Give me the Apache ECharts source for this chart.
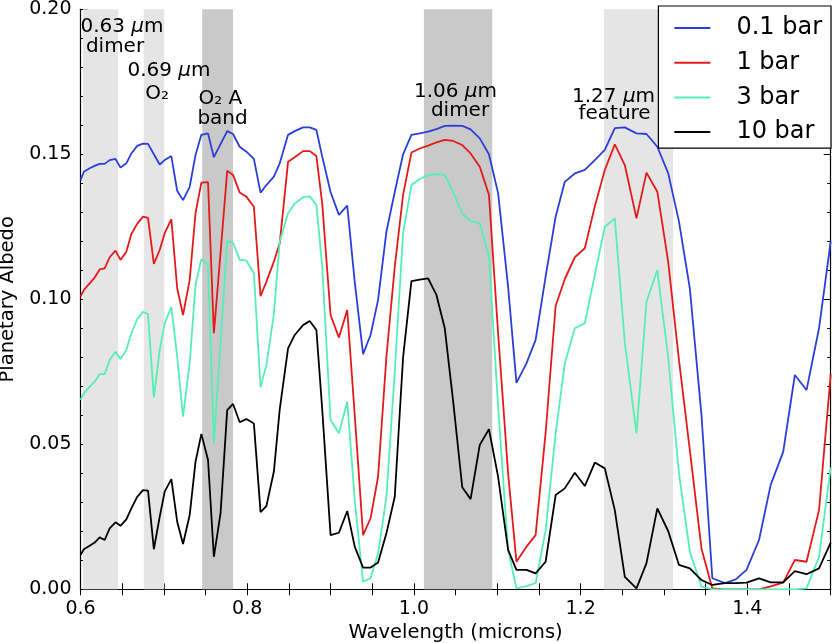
<!DOCTYPE html>
<html><head><meta charset="utf-8">
<script src="https://cdn.jsdelivr.net/npm/echarts@6/dist/echarts.min.js"></script>
<style>html,body{margin:0;padding:0;background:#fff}#c{width:833px;height:643px}</style>
</head><body><div id="c"></div>
<script>
const wavelength = [0.600,0.604,0.611,0.617,0.623,0.629,0.635,0.642,0.648,0.655,
0.661,0.668,0.675,0.681,0.688,0.695,0.701,0.709,0.716,0.723,
0.731,0.738,0.745,0.753,0.760,0.768,0.776,0.783,0.791,0.799,
0.808,0.816,0.823,0.832,0.839,0.849,0.857,0.867,0.875,0.883,
0.890,0.900,0.910,0.920,0.929,0.939,0.948,0.957,0.967,0.977,
0.987,0.997,1.007,1.017,1.027,1.037,1.047,1.058,1.068,1.079,
1.090,1.101,1.113,1.123,1.135,1.146,1.158,1.170,1.181,1.193,
1.205,1.217,1.229,1.241,1.253,1.267,1.279,1.292,1.305,1.318,
1.331,1.345,1.358,1.373,1.386,1.399,1.414,1.428,1.443,1.457,
1.471,1.486,1.500];

const albedo01 = [0.141,0.144,0.1452,0.146,0.1467,0.1467,0.148,0.1484,0.1454,0.1469,
0.1503,0.1529,0.1537,0.1536,0.150,0.1465,0.148,0.1494,0.1374,0.1342,
0.1388,0.1498,0.1567,0.1572,0.149,0.1535,0.158,0.157,0.1526,0.1509,
0.1484,0.1368,0.1394,0.1423,0.1469,0.1567,0.158,0.1593,0.1593,0.1584,
0.1492,0.137,0.1291,0.1323,0.106,0.0811,0.0877,0.0998,0.1233,0.137,
0.150,0.1567,0.1572,0.1578,0.1587,0.1598,0.1599,0.1598,0.1586,0.1555,
0.150,0.1366,0.1043,0.0712,0.0779,0.086,0.1078,0.1285,0.1405,0.1434,
0.1446,0.148,0.1515,0.159,0.1593,0.1572,0.157,0.1526,0.1435,0.1268,
0.1038,0.060,0.0038,0.0021,0.0034,0.0067,0.017,0.036,0.0474,0.0739,
0.0687,0.09,0.12];

const albedo1 = [0.1009,0.1032,0.1055,0.1075,0.1103,0.1107,0.1145,0.1168,0.1136,0.1164,
0.1225,0.126,0.1285,0.1281,0.1122,0.117,0.1228,0.1276,0.1038,0.0946,
0.1067,0.1297,0.1402,0.1404,0.0883,0.116,0.1443,0.1429,0.1368,0.1354,
0.1319,0.1011,0.1061,0.113,0.1193,0.1474,0.149,0.1511,0.1511,0.1494,
0.133,0.0946,0.0868,0.0963,0.060,0.0187,0.0245,0.0388,0.0802,0.1112,
0.136,0.1506,0.152,0.153,0.1541,0.155,0.1546,0.1532,0.1503,0.1457,
0.136,0.0883,0.040,0.0095,0.0147,0.0187,0.054,0.0977,0.107,0.1145,
0.1176,0.132,0.1446,0.1534,0.1463,0.1279,0.1437,0.1371,0.113,0.079,
0.048,0.014,0.0003,0,0,0,0,0.001,0.0023,0.0101,
0.0095,0.0273,0.074];

const albedo3 = [0.0653,0.0676,0.0699,0.0716,0.0742,0.0742,0.0791,0.0819,0.0794,0.0825,
0.0883,0.0931,0.0957,0.0949,0.0662,0.0825,0.0917,0.0974,0.0802,0.0595,
0.078,0.105,0.1138,0.1121,0.0503,0.085,0.1202,0.1195,0.1136,0.1133,
0.109,0.0697,0.0773,0.095,0.1199,0.1297,0.133,0.1352,0.1355,0.1325,
0.1112,0.0584,0.0538,0.0647,0.0308,0.0026,0.0038,0.0124,0.0319,0.075,
0.1228,0.1394,0.1415,0.1428,0.1432,0.1429,0.137,0.1295,0.127,0.1262,
0.1147,0.063,0.0136,0.0003,0.0011,0.0021,0.0204,0.0538,0.0779,0.09,
0.0917,0.1084,0.125,0.1279,0.085,0.0538,0.0992,0.1101,0.080,0.040,
0.013,0.0009,0,0,0,0,0,0,0,0,
0.0003,0.0112,0.042];

const albedo10 = [0.0118,0.0138,0.015,0.0161,0.0179,0.017,0.021,0.0231,0.0219,0.0241,
0.0279,0.0319,0.0342,0.034,0.0138,0.025,0.0337,0.038,0.0233,0.0156,
0.0256,0.044,0.0536,0.0446,0.0112,0.0262,0.0618,0.0639,0.0576,0.0587,
0.0572,0.0266,0.0287,0.0406,0.062,0.0831,0.0877,0.0911,0.0925,0.0894,
0.062,0.0187,0.0195,0.027,0.0147,0.0075,0.0075,0.0092,0.0193,0.0319,
0.08,0.1063,0.1068,0.1072,0.1015,0.09,0.065,0.0352,0.0311,0.0498,
0.0552,0.0388,0.0136,0.0067,0.0067,0.0055,0.0095,0.0325,0.0348,0.0402,
0.0356,0.0437,0.0417,0.0273,0.0043,0.0003,0.009,0.0279,0.0201,0.0084,
0.0072,0.0032,0.0015,0.0021,0.0021,0.0023,0.0038,0.0024,0.0024,0.0063,
0.0052,0.0072,0.0161];

const seriesNames = ['0.1 bar', '1 bar', '3 bar', '10 bar'];
const seriesValues = [albedo01, albedo1, albedo3, albedo10];
const seriesColors = ['#2b3fd8', '#e31a1a', '#55efb5', '#000000'];

const lightBands = [[0.603, 0.645], [0.676, 0.7005], [1.228, 1.311]];
const darkBands = [[0.746, 0.783], [1.012, 1.094]];

const annotations = [
  {text: '0.63 {i|μ}m', x: 0.6498, y: 0.1938},
  {text: 'dimer', x: 0.6414, y: 0.1869},
  {text: '0.69 {i|μ}m', x: 0.7062, y: 0.1787},
  {text: 'O₂', x: 0.6918, y: 0.1710},
  {text: 'O₂ A', x: 0.7677, y: 0.1690},
  {text: 'band', x: 0.7704, y: 0.1621},
  {text: '1.06 {i|μ}m', x: 1.0499, y: 0.1714},
  {text: 'dimer', x: 1.0553, y: 0.1649},
  {text: '1.27 {i|μ}m', x: 1.2395, y: 0.1700},
  {text: 'feature', x: 1.2407, y: 0.1638}
];

const FONT = 'DejaVu Sans';
const chart = echarts.init(document.getElementById('c'));

const xLabelFmt = v => {
  const k = v / 0.2;
  return Math.abs(k - Math.round(k)) < 1e-6 ? v.toFixed(1) : '';
};

const axisLineStyle = {color: '#000', width: 1.2};

const series = [
  {
    type: 'line', name: 'bands', data: [], z: 1, silent: true,
    markArea: {
      silent: true,
      data: lightBands.map(b => [{xAxis: b[0], itemStyle: {color: '#e5e5e5'}}, {xAxis: b[1]}])
        .concat(darkBands.map(b => [{xAxis: b[0], itemStyle: {color: '#c9c9c9'}}, {xAxis: b[1]}]))
    }
  }
];
seriesNames.forEach((n, k) => {
  series.push({
    type: 'line', name: n, z: 3,
    data: wavelength.map((w, i) => [w, seriesValues[k][i]]),
    symbol: 'none', showSymbol: false,
    lineStyle: {color: seriesColors[k], width: 1.8},
    itemStyle: {color: seriesColors[k]}
  });
});
series.push({
  type: 'line', name: 'labels', data: [], z: 5, silent: true,
  markPoint: {
    silent: true, symbol: 'circle', symbolSize: 1,
    itemStyle: {color: 'rgba(0,0,0,0)'},
    label: {
      show: true, position: 'inside', color: '#000', fontSize: 20, fontFamily: FONT,
      rich: {i: {fontStyle: 'italic', fontSize: 20, fontFamily: FONT, color: '#000'}}
    },
    data: annotations.map(a => ({coord: [a.x, a.y], label: {formatter: a.text}}))
  }
});

chart.setOption({
  animation: false,
  backgroundColor: '#fff',
  textStyle: {fontFamily: FONT},
  grid: {left: 80.5, right: 2.3, top: 9.3, bottom: 53.7, containLabel: false, outerBoundsMode: 'none'},
  legend: {
    data: seriesNames, orient: 'vertical', right: 2, top: 6,
    icon: 'rect', itemWidth: 36, itemHeight: 2, itemGap: 6.7,
    padding: [8, 9, 2, 16], borderColor: '#000', borderWidth: 1.2, backgroundColor: '#fff',
    textStyle: {fontSize: 24, color: '#000', fontFamily: FONT, lineHeight: 28, padding: [0, 0, 0, 21]}
  },
  xAxis: [
    {
      type: 'value', min: 0.6, max: 1.5, interval: 0.05, position: 'bottom',
      axisLine: {show: true, lineStyle: axisLineStyle},
      axisTick: {show: true, inside: true, length: 6, lineStyle: {color: '#000'}},
      axisLabel: {formatter: xLabelFmt, margin: 10, fontSize: 19, color: '#000', fontFamily: FONT},
      splitLine: {show: false},
      name: 'Wavelength (microns)', nameLocation: 'middle', nameGap: 31,
      nameTextStyle: {fontSize: 19.5, color: '#000', fontFamily: FONT}
    },
    {
      type: 'value', min: 0.6, max: 1.5, interval: 0.05, position: 'top',
      axisLine: {show: true, lineStyle: axisLineStyle},
      axisTick: {show: true, inside: true, length: 6, lineStyle: {color: '#000'}},
      axisLabel: {show: false}, splitLine: {show: false}
    }
  ],
  yAxis: [
    {
      type: 'value', min: 0, max: 0.2, interval: 0.05, position: 'left',
      axisLine: {show: true, lineStyle: axisLineStyle},
      axisTick: {show: true, inside: true, length: 7, lineStyle: {color: '#000'}},
      minorTick: {show: true, splitNumber: 5, length: 3.5, lineStyle: {color: '#000'}},
      axisLabel: {formatter: v => v.toFixed(2), margin: 9, fontSize: 19, color: '#000', fontFamily: FONT},
      splitLine: {show: false},
      name: 'Planetary Albedo', nameLocation: 'middle', nameGap: 62,
      nameTextStyle: {fontSize: 19.5, color: '#000', fontFamily: FONT}
    },
    {
      type: 'value', min: 0, max: 0.2, interval: 0.05, position: 'right',
      axisLine: {show: true, lineStyle: axisLineStyle},
      axisTick: {show: true, inside: true, length: 7, lineStyle: {color: '#000'}},
      minorTick: {show: true, splitNumber: 5, length: 3.5, lineStyle: {color: '#000'}},
      axisLabel: {show: false}, splitLine: {show: false}
    }
  ],
  series: series
});
</script></body></html>
